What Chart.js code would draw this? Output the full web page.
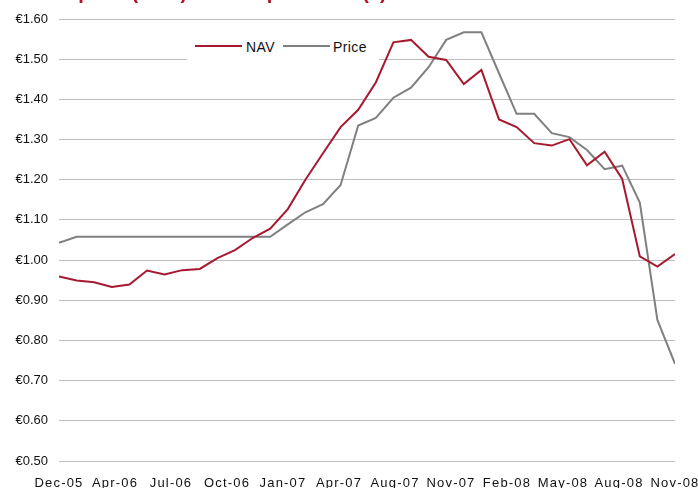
<!DOCTYPE html>
<html>
<head>
<meta charset="utf-8">
<script src="https://cdn.jsdelivr.net/npm/chart.js@4.4.1/dist/chart.umd.min.js"></script>
<style>
  html, body { margin: 0; padding: 0; background: #fff; }
  #wrap { position: relative; width: 698px; height: 488px; overflow: hidden; }
  #c { position: absolute; left: 0; top: 0; }
  #legend { position: absolute; left: 187px; top: 33px; width: 192px; height: 28px; background: #fff;
            font: 14px "Liberation Sans", Arial, sans-serif; color: #111; letter-spacing: 0.4px; }
  #legend .ln { position: absolute; top: 12px; height: 2px; width: 47px; }
  #legend .tx { position: absolute; top: 6px; line-height: 16px; white-space: nowrap; }
</style>
</head>
<body>
<div id="wrap">
  <canvas id="c" width="698" height="488"></canvas>
  <div id="legend">
    <span class="ln" style="left:8px;background:#A6192E"></span><span class="tx" style="left:59px">NAV</span>
    <span class="ln" style="left:96px;background:#808080"></span><span class="tx" style="left:146px">Price</span>
  </div>
</div>
<script>
// ---- data ----
const titleText = 'Share price (EUR) vs NAV per share (€)';

const months = [
  'Dec-05',
  'Jan-06','Feb-06','Mar-06','Apr-06','May-06','Jun-06','Jul-06','Aug-06','Sep-06','Oct-06','Nov-06','Dec-06',
  'Jan-07','Feb-07','Mar-07','Apr-07','May-07','Jun-07','Jul-07','Aug-07','Sep-07','Oct-07','Nov-07','Dec-07',
  'Jan-08','Feb-08','Mar-08','Apr-08','May-08','Jun-08','Jul-08','Aug-08','Sep-08','Oct-08','Nov-08'
];

const navValues = [
  0.959, 0.949, 0.945, 0.933, 0.939, 0.974, 0.964, 0.975, 0.978, 1.005, 1.025, 1.055,
  1.078, 1.127, 1.200, 1.266, 1.331, 1.374, 1.442, 1.542, 1.548, 1.506, 1.498, 1.438,
  1.473, 1.350, 1.331, 1.291, 1.285, 1.301, 1.236, 1.270, 1.202, 1.009, 0.984, 1.015
];

const priceValues = [
  1.043, 1.058, 1.058, 1.058, 1.058, 1.058, 1.058, 1.058, 1.058, 1.058, 1.058, 1.058,
  1.058, 1.089, 1.119, 1.139, 1.187, 1.335, 1.354, 1.404, 1.429, 1.480, 1.548, 1.567,
  1.567, 1.465, 1.364, 1.364, 1.316, 1.306, 1.274, 1.226, 1.235, 1.143, 0.851, 0.742
];

const xTickLabels = ['Dec-05','Apr-06','Jul-06','Oct-06','Jan-07','Apr-07','Aug-07','Nov-07','Feb-08','May-08','Aug-08','Nov-08'];
const yTickValues = [0.5, 0.6, 0.7, 0.8, 0.9, 1.0, 1.1, 1.2, 1.3, 1.4, 1.5, 1.6];

// ---- chart ----
const FONT = '"Liberation Sans", Arial, Helvetica, sans-serif';
const lastIndex = months.length - 1;

const titlePlugin = {
  id: 'cutTitle',
  afterDraw(chart) {
    const ctx = chart.ctx;
    ctx.save();
    ctx.font = 'bold 20px ' + FONT;
    ctx.fillStyle = '#B2102F';
    ctx.textAlign = 'left';
    ctx.textBaseline = 'alphabetic';
    ctx.fillText(titleText, 17, -1);
    ctx.restore();
  }
};

const xLabelSpacing = {
  id: 'xLabelSpacing',
  beforeDraw(chart) {
    const s = chart.scales.x;
    if (s && !s.__ls) {
      const orig = s.drawLabels;
      s.drawLabels = function (area) {
        const ctx = this.ctx;
        ctx.save();
        ctx.letterSpacing = '1.2px';
        orig.call(this, area);
        ctx.restore();
      };
      s.__ls = true;
    }
  }
};

new Chart(document.getElementById('c'), {
  type: 'line',
  data: {
    datasets: [
      {
        label: 'NAV',
        data: navValues.map((v, i) => ({ x: i, y: v })),
        borderColor: '#A6192E',
        backgroundColor: '#A6192E',
        borderWidth: 2,
        pointRadius: 0,
        tension: 0,
        fill: false
      },
      {
        label: 'Price',
        data: priceValues.map((v, i) => ({ x: i, y: v })),
        borderColor: '#808080',
        backgroundColor: '#808080',
        borderWidth: 2,
        pointRadius: 0,
        tension: 0,
        fill: false
      }
    ]
  },
  options: {
    responsive: false,
    animation: false,
    layout: { padding: { left: 0, right: 0, top: 19, bottom: 0 } },
    plugins: {
      legend: { display: false },
      title: { display: false },
      tooltip: { enabled: false }
    },
    scales: {
      x: {
        type: 'linear',
        min: 0,
        max: lastIndex,
        grid: { display: false, drawTicks: false },
        border: { display: false },
        afterBuildTicks: (s) => {
          s.ticks = xTickLabels.map((_, i) => ({ value: i * lastIndex / (xTickLabels.length - 1) }));
        },
        afterFit: (s) => { s.height = 27; s.paddingLeft = 0; s.paddingRight = 23; },
        ticks: {
          autoSkip: false,
          maxRotation: 0,
          minRotation: 0,
          padding: 15,
          color: '#111',
          font: { family: FONT, size: 13 },
          callback: (v, i) => xTickLabels[i]
        }
      },
      y: {
        min: 0.5,
        max: 1.6,
        grid: { color: '#BFBFBF', lineWidth: 1, drawTicks: false },
        border: { display: false },
        afterBuildTicks: (s) => { s.ticks = yTickValues.map(v => ({ value: v })); },
        afterFit: (s) => { s.width = 59; },
        ticks: {
          padding: 11,
          color: '#111',
          font: { family: FONT, size: 13 },
          callback: (v) => '€' + Number(v).toFixed(2)
        }
      }
    }
  },
  plugins: [titlePlugin, xLabelSpacing]
});
</script>
</body>
</html>
